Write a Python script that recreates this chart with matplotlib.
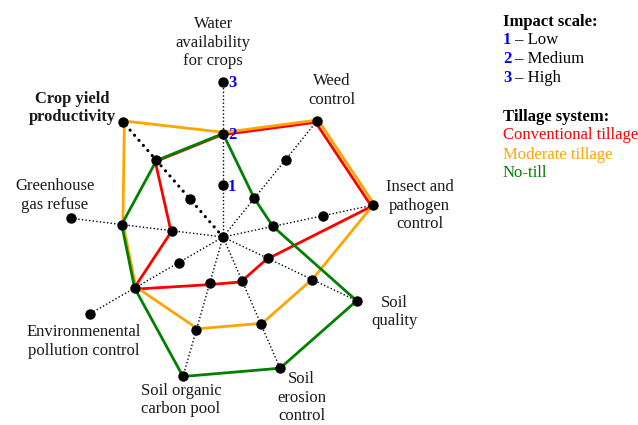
"""Radar chart: impact of tillage systems on agro-ecosystem services."""

import numpy as np
import matplotlib
matplotlib.use("Agg")
import matplotlib.pyplot as plt
from matplotlib.transforms import offset_copy

plt.rcParams["font.family"] = "serif"
plt.rcParams["font.serif"] = ["Liberation Serif", "DejaVu Serif"]

# axes of the radar, clockwise from the top
criteria = [
    "Water\navailability\nfor crops",
    "Weed\ncontrol",
    "Insect and\npathogen\ncontrol",
    "Soil\nquality",
    "Soil\nerosion\ncontrol",
    "Soil organic\ncarbon pool",
    "Environmenental\npollution control",
    "Greenhouse\ngas refuse",
    "Crop yield\nproductivity",
]
levels = [1, 2, 3]
level_names = ["Low", "Medium", "High"]

conventional = [2, 3, 3, 1, 1, 1, 2, 1, 2]
moderate = [2, 3, 3, 2, 2, 2, 2, 2, 3]
no_till = [2, 1, 1, 3, 3, 3, 2, 2, 2]

series_names = ["Conventional tillage", "Moderate tillage", "No-till"]
series_vals = [conventional, moderate, no_till]
series_colors = ["#ff0000", "#ffa500", "#008000"]
series_shift = [(-1.2, -1.2), (1.2, 1.2), (0.0, 0.0)]  # px, so overlaps stay visible

# spoke directions (deg) and relative lengths - the original is hand drawn,
# spokes are not quite evenly spread
spoke_deg = [90, 51, 12, -25.5, -66.5, -106, -150, 173, 131]
spoke_len = np.array([155, 149, 153, 148, 143, 145, 153, 153, 152]) / 152.0

# label anchor points (in level units, relative to the centre)
label_pos = [
    (-0.19, 3.83), (2.14, 2.89), (3.88, 0.62), (3.38, -1.48), (1.55, -3.17),
    (-0.83, -3.22), (-2.74, -2.06), (-3.32, 0.82), (-2.97, 2.54),
]

W, H = 638, 425
unit = 50.7
cx, cy = 223, 237
FS = 12

fig = plt.figure(figsize=(W / 100, H / 100), dpi=100)
ax = fig.add_axes([0, 0, 1, 1])
ax.set_xlim(-cx / unit, (W - cx) / unit)
ax.set_ylim(-(H - cy) / unit, cy / unit)
ax.axis("off")

n = len(criteria)
theta = np.deg2rad(spoke_deg)


def xy(vals):
    v = np.asarray(vals, dtype=float) * spoke_len
    return v * np.cos(theta), v * np.sin(theta)


# spokes
top = max(levels)
x_end, y_end = xy([top] * n)
for i in range(n):
    if i == n - 1:
        ax.plot([0, x_end[i]], [0, y_end[i]], color="black", lw=2.3,
                linestyle=(0, (0.01, 2.1)), dash_capstyle="round", zorder=1)
    else:
        ax.plot([0, x_end[i]], [0, y_end[i]], color="black", lw=1.0,
                linestyle=(0, (1, 1.6)), zorder=1)

# series polygons
for vals, col, (sx, sy) in zip(series_vals, series_colors, series_shift):
    x, y = xy(vals)
    x = np.append(x, x[0])
    y = np.append(y, y[0])
    tr = offset_copy(ax.transData, fig=fig, x=sx, y=sy, units="dots")
    ax.plot(x, y, color=col, lw=2.0, transform=tr, zorder=2,
            solid_joinstyle="miter")

# level dots
for lv in levels:
    x, y = xy([lv] * n)
    ax.plot(x, y, "o", color="black", ms=6.5, zorder=3, linestyle="none")
ax.plot([0], [0], "o", color="black", ms=6.5, zorder=3)

# scale numbers on the first spoke
for lv in levels:
    x, y = xy([lv] * n)
    ax.text(x[0] + 0.1, y[0] - 0.03, str(lv),
            color="#0000ff", fontweight="bold", fontsize=FS,
            ha="left", va="center", zorder=4)

# criterion labels
for i, (lab, (lx, ly)) in enumerate(zip(criteria, label_pos)):
    ax.text(lx, ly, lab, ha="center", va="center", fontsize=FS,
            linespacing=1.2, color="#1a1a1a",
            fontweight="bold" if i == n - 1 else "normal")

# legend block
lx = 503 / W


def fy(py):
    return 1 - py / H


fig.text(lx, fy(22), "Impact scale:", fontsize=FS, fontweight="bold",
         va="center", ha="left")
for lv, name, py in zip(levels, level_names, [40, 59, 78]):
    t = fig.text(lx, fy(py), str(lv), color="#0000ff", fontweight="bold",
                 fontsize=FS, va="center", ha="left")
    ax.annotate(" \u2013 " + name, xy=(1, 0.5), xycoords=t, va="center",
                ha="left", fontsize=FS)

fig.text(lx, fy(117), "Tillage system:", fontsize=FS, fontweight="bold",
         va="center", ha="left")
for name, col, py in zip(series_names, series_colors, [135, 155, 173]):
    fig.text(lx, fy(py), name, color=col, fontsize=FS, va="center", ha="left")

fig.savefig("out.png", dpi=100)
